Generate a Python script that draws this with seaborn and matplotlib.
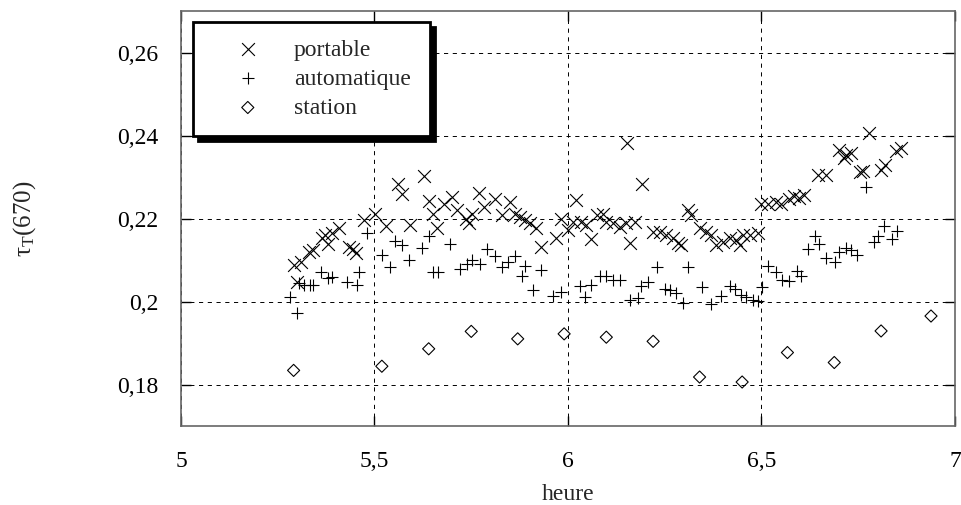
import matplotlib
matplotlib.use("Agg")
import matplotlib.pyplot as plt
import seaborn as sns
import pandas as pd

# ---------------- data ----------------
portable_x = [5.292, 5.301, 5.310, 5.332, 5.341, 5.364, 5.372, 5.381, 5.390, 5.407,
              5.435, 5.444, 5.453, 5.472, 5.502, 5.530, 5.562, 5.571, 5.592, 5.628,
              5.642, 5.651, 5.661, 5.679, 5.700, 5.713, 5.737, 5.745, 5.753, 5.771,
              5.782, 5.812, 5.829, 5.849, 5.862, 5.875, 5.888, 5.901, 5.918, 5.931,
              5.970, 5.983, 6.000, 6.013, 6.020, 6.034, 6.047, 6.060, 6.075, 6.090,
              6.099, 6.116, 6.134, 6.151, 6.152, 6.161, 6.172, 6.190, 6.220, 6.237,
              6.254, 6.271, 6.284, 6.293, 6.310, 6.319, 6.340, 6.357, 6.370, 6.383,
              6.400, 6.418, 6.435, 6.444, 6.452, 6.469, 6.491, 6.498, 6.518, 6.537,
              6.550, 6.571, 6.584, 6.597, 6.610, 6.647, 6.666, 6.700, 6.714, 6.718,
              6.731, 6.754, 6.761, 6.778, 6.808, 6.820, 6.847, 6.860]
portable_y = [0.2088, 0.2048, 0.2096, 0.2120, 0.2124, 0.2154, 0.2160, 0.2138, 0.2165, 0.2176,
              0.2132, 0.2126, 0.2116, 0.2196, 0.2210, 0.2182, 0.2284, 0.2260, 0.2184, 0.2302,
              0.2242, 0.2210, 0.2178, 0.2236, 0.2252, 0.2220, 0.2200, 0.2190, 0.2210, 0.2262,
              0.2228, 0.2248, 0.2208, 0.2240, 0.2212, 0.2204, 0.2196, 0.2188, 0.2176, 0.2132,
              0.2154, 0.2198, 0.2172, 0.2192, 0.2244, 0.2192, 0.2184, 0.2150, 0.2208, 0.2212,
              0.2192, 0.2188, 0.2180, 0.2188, 0.2383, 0.2142, 0.2192, 0.2284, 0.2168, 0.2168,
              0.2160, 0.2152, 0.2140, 0.2136, 0.2220, 0.2208, 0.2176, 0.2168, 0.2160, 0.2136,
              0.2144, 0.2152, 0.2148, 0.2136, 0.2160, 0.2160, 0.2164, 0.2234, 0.2234, 0.2240,
              0.2234, 0.2246, 0.2254, 0.2250, 0.2256, 0.2306, 0.2305, 0.2366, 0.2346, 0.2354,
              0.2358, 0.2312, 0.2314, 0.2406, 0.2317, 0.2328, 0.2362, 0.2370]

auto_x = [5.282, 5.299, 5.304, 5.317, 5.334, 5.341, 5.361, 5.381, 5.390, 5.430,
          5.455, 5.461, 5.480, 5.519, 5.540, 5.553, 5.571, 5.590, 5.622, 5.640,
          5.652, 5.665, 5.695, 5.721, 5.739, 5.751, 5.773, 5.790, 5.812, 5.829,
          5.844, 5.862, 5.882, 5.890, 5.910, 5.931, 5.961, 5.983, 6.030, 6.043,
          6.060, 6.082, 6.099, 6.116, 6.134, 6.159, 6.181, 6.189, 6.207, 6.231,
          6.250, 6.263, 6.280, 6.297, 6.310, 6.345, 6.370, 6.396, 6.418, 6.432,
          6.447, 6.460, 6.477, 6.490, 6.502, 6.518, 6.537, 6.554, 6.570, 6.593,
          6.601, 6.619, 6.639, 6.649, 6.666, 6.690, 6.700, 6.718, 6.731, 6.748,
          6.770, 6.791, 6.800, 6.817, 6.838, 6.851]
auto_y = [0.2010, 0.1972, 0.2044, 0.2040, 0.2040, 0.2040, 0.2070, 0.2056, 0.2060, 0.2046,
          0.2040, 0.2072, 0.2166, 0.2112, 0.2084, 0.2146, 0.2136, 0.2100, 0.2130, 0.2158,
          0.2070, 0.2070, 0.2138, 0.2078, 0.2090, 0.2100, 0.2090, 0.2126, 0.2110, 0.2084,
          0.2096, 0.2110, 0.2062, 0.2086, 0.2028, 0.2076, 0.2014, 0.2024, 0.2038, 0.2012,
          0.2040, 0.2062, 0.2062, 0.2052, 0.2052, 0.2004, 0.2008, 0.2038, 0.2048, 0.2084,
          0.2030, 0.2028, 0.2020, 0.1996, 0.2082, 0.2034, 0.1994, 0.2014, 0.2037, 0.2029,
          0.2016, 0.2011, 0.2004, 0.2002, 0.2034, 0.2085, 0.2070, 0.2052, 0.2050, 0.2074,
          0.2062, 0.2126, 0.2157, 0.2138, 0.2106, 0.2096, 0.2120, 0.2130, 0.2125, 0.2112,
          0.2276, 0.2144, 0.2157, 0.2182, 0.2150, 0.2170]

station_x = [5.291, 5.519, 5.640, 5.750, 5.870, 5.990, 6.099, 6.220, 6.340, 6.450,
             6.567, 6.688, 6.809, 6.938]
station_y = [0.1834, 0.1844, 0.1886, 0.1928, 0.1910, 0.1922, 0.1914, 0.1904, 0.1818, 0.1806,
             0.1877, 0.1853, 0.1929, 0.1965]

series_names = ["portable", "automatique", "station"]
x_ticks = [5, 5.5, 6, 6.5, 7]
x_tick_labels = ["5", "5,5", "6", "6,5", "7"]
y_ticks = [0.18, 0.2, 0.22, 0.24, 0.26]
y_tick_labels = ["0,18", "0,2", "0,22", "0,24", "0,26"]
x_label = "heure"
y_label = r"$\mathregular{\tau_T}$(670)"

# ---------------- style ----------------
sns.set_theme(style="white")
plt.rcParams["font.family"] = ["Liberation Serif", "DejaVu Serif"]
plt.rcParams["mathtext.fontset"] = "custom"
plt.rcParams["mathtext.rm"] = "Liberation Serif"
plt.rcParams["lines.scale_dashes"] = False

FS = 17

fig = plt.figure(figsize=(9.62, 5.05), dpi=100)
ax = fig.add_axes([181 / 962, 1 - 426 / 505, 774 / 962, 415 / 505])

df_p = pd.DataFrame({"x": portable_x, "y": portable_y})
df_a = pd.DataFrame({"x": auto_x, "y": auto_y})
df_s = pd.DataFrame({"x": station_x, "y": station_y})

sns.scatterplot(data=df_p, x="x", y="y", marker="x", s=85, color="black",
                linewidth=0.8, label=series_names[0], ax=ax, zorder=3)
sns.scatterplot(data=df_a, x="x", y="y", marker="+", s=75, color="black",
                linewidth=0.8, label=series_names[1], ax=ax, zorder=3)
sns.scatterplot(data=df_s, x="x", y="y", marker="D", s=38, color="black",
                facecolor="none", edgecolor="black",
                linewidth=0.8, label=series_names[2], ax=ax, zorder=3)

ax.set_xlim(5, 7)
ax.set_ylim(0.17, 0.27)
ax.set_xticks(x_ticks)
ax.set_xticklabels(x_tick_labels)
ax.set_yticks(y_ticks)
ax.set_yticklabels(y_tick_labels)

ax.grid(True, color="black", linestyle=(0, (3, 3.3)), linewidth=0.7)
ax.set_axisbelow(True)

for sp in ax.spines.values():
    sp.set_color("#666666")
    sp.set_linewidth(1.2)

ax.tick_params(axis="both", which="major", direction="in", length=7.5, width=1,
               color="black", labelsize=FS, labelcolor="black",
               top=True, right=True, bottom=True, left=True)
ax.tick_params(axis="x", pad=18)
ax.tick_params(axis="y", pad=16.5)

ax.set_xlabel(x_label, fontsize=FS, labelpad=9)
ax.set_ylabel(y_label, fontsize=FS + 1)
ax.yaxis.set_label_coords(-0.185, 0.5)

leg = ax.legend(loc="upper left", bbox_to_anchor=(12 / 774, 0.5, 237 / 774, 1 - 11 / 415 - 0.5),
                mode="expand", borderaxespad=0, fontsize=FS, frameon=True,
                fancybox=False, edgecolor="black", facecolor="white", framealpha=1,
                borderpad=0.72, labelspacing=0.32, handlelength=3.2, handletextpad=0.35,
                shadow={"ox": 3.8, "oy": -3.8, "facecolor": "black", "edgecolor": "black", "alpha": 1})
leg.get_frame().set_linewidth(2.0)

fig.savefig("out.png", dpi=100)
